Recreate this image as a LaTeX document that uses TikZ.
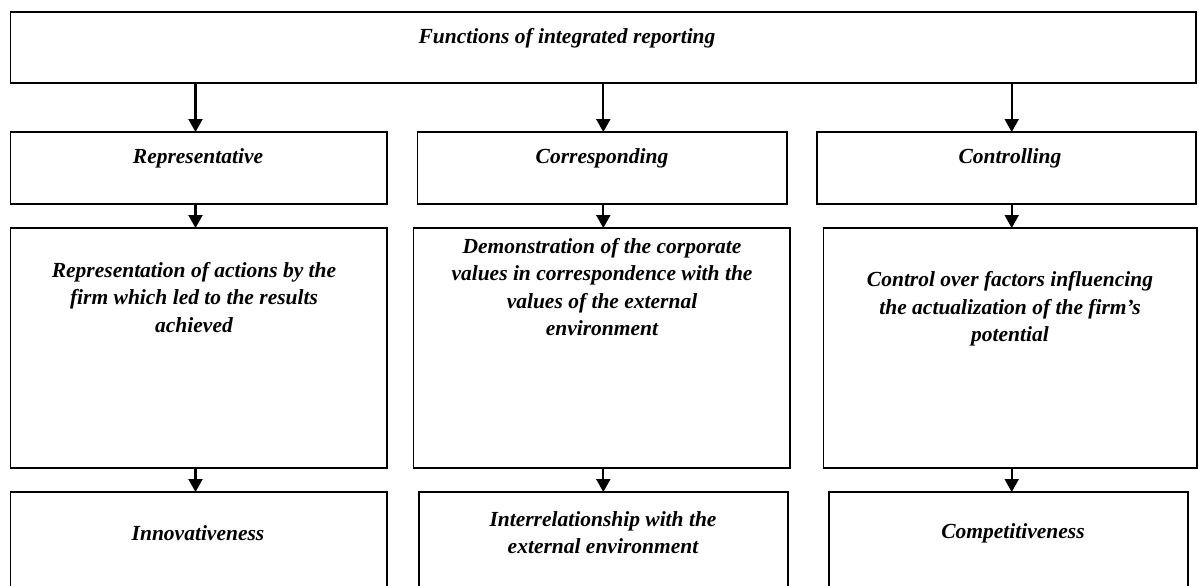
\documentclass[tikz,border=0pt]{standalone}
\usepackage{fontspec}
\setmainfont{Liberation Serif}
\usetikzlibrary{arrows.meta}
\tikzset{
  boxstyle/.style={draw=black, line width=1.3pt, fill=none, inner sep=0pt, outer sep=0pt, anchor=north west},
  txtstyle/.style={font=\fontsize{21.5}{27.3}\selectfont\bfseries\itshape, align=center, inner sep=0pt, anchor=center},
  arrowstyle/.style={line width=2.2pt, -{Triangle[width=14pt,length=13pt]}, shorten >=0pt}
}
\begin{document}
\begin{tikzpicture}[x=1pt,y=-1pt]
\useasboundingbox (0,0) rectangle (1199,586);
\clip (0,0) rectangle (1199,586);
% boxes
\node[boxstyle, minimum width=1185.3pt, minimum height=71pt] (top) at (10.7,12) {};
\node[boxstyle, minimum width=376.3pt, minimum height=72pt] (r2l) at (10.7,132) {};
\node[boxstyle, minimum width=369.3pt, minimum height=72pt] (r2m) at (417.7,132) {};
\node[boxstyle, minimum width=379pt, minimum height=72pt] (r2r) at (817,132) {};
\node[boxstyle, minimum width=376.3pt, minimum height=240pt] (r3l) at (10.7,228) {};
\node[boxstyle, minimum width=376.3pt, minimum height=240pt] (r3m) at (413.7,228) {};
\node[boxstyle, minimum width=373.3pt, minimum height=240pt] (r3r) at (823.7,228) {};
\node[boxstyle, minimum width=376.3pt, minimum height=120pt] (r4l) at (10.7,492) {};
\node[boxstyle, minimum width=369pt, minimum height=120pt] (r4m) at (419,492) {};
\node[boxstyle, minimum width=359pt, minimum height=120pt] (r4r) at (829,492) {};
% texts
\node[txtstyle] (ttop) at (567,38) {Functions of integrated reporting};
\node[txtstyle] (t2l) at (198,158) {Representative};
\node[txtstyle] (t2m) at (602,158) {Corresponding};
\node[txtstyle] (t2r) at (1010,158) {Controlling};
\node[txtstyle] (t3l) at (194,297.5) {Representation of actions by the\\firm which led to the results\\achieved};
\node[txtstyle] (t3m) at (602,287) {Demonstration of the corporate\\values in correspondence with the\\values of the external\\environment};
\node[txtstyle] (t3r) at (1010,309) {Control over factors influencing\\the actualization of the firm’s\\potential};
\node[txtstyle] (t4l) at (198,533) {Innovativeness};
\node[txtstyle] (t4m) at (603,532.5) {Interrelationship with the\\external environment};
\node[txtstyle] (t4r) at (1013,533) {Competitiveness};
% connectors
\coordinate (xl) at (195.5,0);
\coordinate (xm) at (603.3,0);
\coordinate (xr) at (1011.7,0);
\draw[arrowstyle] (top.south -| xl) -- (r2l.north -| xl);
\draw[arrowstyle] (top.south -| xm) -- (r2m.north -| xm);
\draw[arrowstyle] (top.south -| xr) -- (r2r.north -| xr);
\draw[arrowstyle] (r2l.south -| xl) -- (r3l.north -| xl);
\draw[arrowstyle] (r2m.south -| xm) -- (r3m.north -| xm);
\draw[arrowstyle] (r2r.south -| xr) -- (r3r.north -| xr);
\draw[arrowstyle] (r3l.south -| xl) -- (r4l.north -| xl);
\draw[arrowstyle] (r3m.south -| xm) -- (r4m.north -| xm);
\draw[arrowstyle] (r3r.south -| xr) -- (r4r.north -| xr);
\end{tikzpicture}
\end{document}
